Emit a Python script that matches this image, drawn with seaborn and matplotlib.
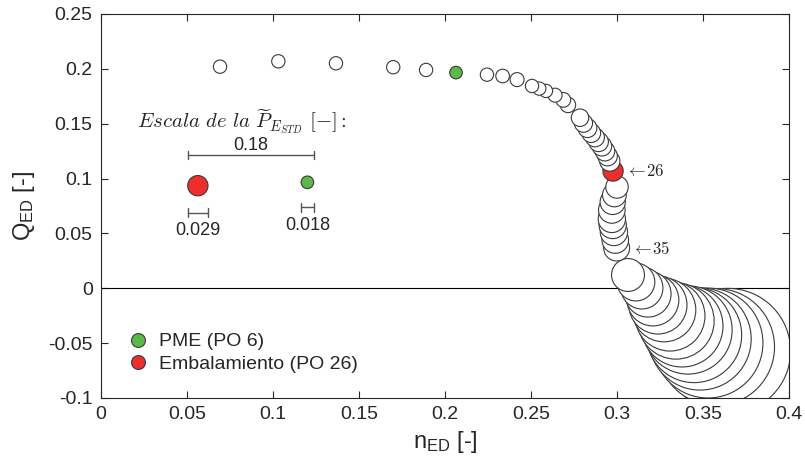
import numpy as np
import pandas as pd
import matplotlib
matplotlib.use("Agg")
import matplotlib.pyplot as plt
from matplotlib.lines import Line2D
import seaborn as sns

# Operating points (PO 1 ... PO 51)
n_ed = [0.0692, 0.1031, 0.1366, 0.1699, 0.1890, 0.2064, 0.2244, 0.2335, 0.2419, 0.2506,
        0.2548, 0.2587, 0.2640, 0.2688, 0.2715, 0.2785, 0.2805, 0.2828, 0.2850, 0.2872,
        0.2893, 0.2912, 0.2930, 0.2945, 0.2958, 0.2977, 0.3000, 0.2985, 0.2975, 0.2970,
        0.2970, 0.2975, 0.2982, 0.2990, 0.2998, 0.3064, 0.3110, 0.3145, 0.3180, 0.3209,
        0.3238, 0.3273, 0.3308, 0.3343, 0.3378, 0.3413, 0.3448, 0.3483, 0.3529, 0.3576,
        0.3645]
q_ed = [0.2020, 0.2069, 0.2051, 0.2015, 0.1990, 0.1966, 0.1947, 0.1935, 0.1902, 0.1844,
        0.1820, 0.1799, 0.1760, 0.1717, 0.1671, 0.1555, 0.1505, 0.1460, 0.1415, 0.1375,
        0.1335, 0.1295, 0.1250, 0.1205, 0.1160, 0.1069, 0.0923, 0.0851, 0.0787, 0.0714,
        0.0632, 0.0577, 0.0513, 0.0440, 0.0367, 0.0121, 0.0057, 0.0003, -0.0052, -0.0107,
        -0.0152, -0.0198, -0.0253, -0.0298, -0.0344, -0.0380, -0.0426, -0.0462, -0.0499, -0.0535,
        -0.0572]
p_estd = [0.019, 0.019, 0.019, 0.019, 0.019, 0.018, 0.019, 0.0195, 0.020, 0.019,
          0.019, 0.019, 0.020, 0.021, 0.022, 0.025, 0.026, 0.027, 0.027, 0.027,
          0.028, 0.028, 0.028, 0.028, 0.029, 0.029, 0.032, 0.034, 0.036, 0.038,
          0.039, 0.039, 0.039, 0.038, 0.037, 0.047, 0.054, 0.060, 0.066, 0.074,
          0.083, 0.091, 0.100, 0.109, 0.117, 0.126, 0.136, 0.146, 0.157, 0.167,
          0.179]
po_pme = 6
po_emb = 26
labelled_po = [26, 35]

# Size scale reference
scale_ref = 0.18
scale_examples = [0.029, 0.018]

GREEN = "#5cb848"
RED = "#ee2d2d"
EDGE = "#3a3a3a"

sns.set_style("ticks")
plt.rcParams["font.family"] = ["Liberation Sans", "DejaVu Sans"]
plt.rcParams["mathtext.fontset"] = "custom"
plt.rcParams["mathtext.rm"] = "Liberation Sans"
plt.rcParams["mathtext.it"] = "Liberation Sans:italic"

W, H, DPI = 805, 470, 100
fig = plt.figure(figsize=(W / DPI, H / DPI), dpi=DPI)
left, right, bottom, top = 101 / W, 789 / W, 1 - 398 / H, 1 - 14 / H
ax = fig.add_axes([left, bottom, right - left, top - bottom])

xlim = (0.0, 0.4)
ylim = (-0.1, 0.25)
# bubble diameter expressed in n_ED units per unit of P
k_diam = 0.407
px_per_x = (right - left) * W / (xlim[1] - xlim[0])
pt_per_p = k_diam * px_per_x * 72 / DPI
p_max = max(p_estd)

po = np.arange(1, len(n_ed) + 1)
df = pd.DataFrame({"po": po, "n": n_ed, "q": q_ed, "p": p_estd})
df["area"] = df["p"] ** 2
df["kind"] = np.where(df["po"] == po_pme, "pme",
                      np.where(df["po"] == po_emb, "emb", "otro"))
palette = {"otro": "white", "pme": GREEN, "emb": RED}
size_kw = dict(sizes=(0, (p_max * pt_per_p) ** 2), size_norm=(0, p_max ** 2))

ax.axhline(0, color="black", lw=0.8, zorder=1)

sns.scatterplot(data=df.iloc[::-1], x="n", y="q", hue="kind", palette=palette,
                size="area", legend=False, edgecolor=EDGE, linewidth=0.8,
                ax=ax, zorder=2, **size_kw)

# arrows naming some operating points
for lab in labelled_po:
    row = df[df["po"] == lab].iloc[0]
    r_x = row["p"] * k_diam / 2
    ax.text(row["n"] + r_x + 0.0015, row["q"], r"$\leftarrow\!%d$" % lab,
            math_fontfamily="cm", fontsize=12, ha="left", va="center", zorder=3)

# size scale
x0 = 0.0504
L = scale_ref * k_diam
bar_y = 0.1215
cap = 0.004
lc = "#555555"
ax.text(x0 + L / 2 - 0.005, 0.1515,
        r"$Escala\ de\ la\ \widetilde{P}_{E_{STD}}\ [-]:$",
        math_fontfamily="cm", fontsize=15, ha="center", va="center")
ax.plot([x0, x0 + L], [bar_y, bar_y], color=lc, lw=1)
for xx in (x0, x0 + L):
    ax.plot([xx, xx], [bar_y - cap, bar_y + cap], color=lc, lw=1)
ax.text(x0 + L / 2, bar_y + 0.0010, f"{scale_ref:.2f}", fontsize=13,
        ha="center", va="bottom")

d_red = scale_examples[0] * k_diam
d_grn = scale_examples[1] * k_diam
ex = pd.DataFrame({
    "n": [x0 + d_red / 2, x0 + L - d_grn / 2],
    "q": [0.0935, 0.0966],
    "area": [p ** 2 for p in scale_examples],
    "kind": ["emb", "pme"],
})
sns.scatterplot(data=ex, x="n", y="q", hue="kind", palette=palette, size="area",
                legend=False, edgecolor=EDGE, linewidth=0.8, ax=ax, zorder=2, **size_kw)

for (xa, xb, yb, yt, val) in [(x0, x0 + d_red, 0.0689, 0.0531, scale_examples[0]),
                               (x0 + L - d_grn, x0 + L, 0.0738, 0.0568, scale_examples[1])]:
    ax.plot([xa, xb], [yb, yb], color=lc, lw=1)
    for xx in (xa, xb):
        ax.plot([xx, xx], [yb - cap, yb + cap], color=lc, lw=1)
    ax.text((xa + xb) / 2, yt, f"{val:.3f}", fontsize=13, ha="center", va="center")

# legend
handles = [
    Line2D([], [], marker="o", ls="", markersize=10, markerfacecolor=GREEN,
           markeredgecolor=EDGE, markeredgewidth=0.8, label="PME (PO 6)"),
    Line2D([], [], marker="o", ls="", markersize=10, markerfacecolor=RED,
           markeredgecolor=EDGE, markeredgewidth=0.8, label="Embalamiento (PO 26)"),
]
ax.legend(handles=handles, loc="lower left", bbox_to_anchor=(0.0, 0.02),
          frameon=False, fontsize=14, handletextpad=0.1, labelspacing=0.25,
          borderaxespad=0.5)

ax.set_xlim(*xlim)
ax.set_ylim(*ylim)
ax.set_xticks(np.arange(0, 0.401, 0.05))
ax.set_yticks(np.arange(-0.1, 0.251, 0.05))
ax.set_xticklabels(["0", "0.05", "0.1", "0.15", "0.2", "0.25", "0.3", "0.35", "0.4"])
ax.set_yticklabels(["-0.1", "-0.05", "0", "0.05", "0.1", "0.15", "0.2", "0.25"])
ax.tick_params(direction="in", top=True, right=True, length=5, width=0.8,
               labelsize=14, colors="#262626", pad=6)
for s in ax.spines.values():
    s.set_visible(True)
    s.set_color("#262626")
    s.set_linewidth(0.8)
ax.set_xlabel(r"$\mathregular{n_{ED}}$ [-]", fontsize=17, labelpad=4)
ax.set_ylabel(r"$\mathregular{Q_{ED}}$ [-]", fontsize=17, labelpad=8)

fig.savefig("out.png", dpi=DPI)
